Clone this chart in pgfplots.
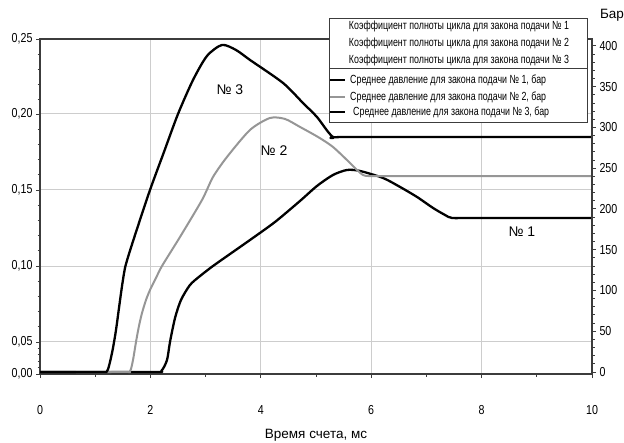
\documentclass[border=0pt]{standalone}
\usepackage{fontspec}
\setmainfont{Liberation Sans}
\newfontfamily\cond[FakeStretch=0.82]{Liberation Sans}
\newfontfamily\legfont[FakeStretch=0.75]{Liberation Sans}
\usepackage{pgfplots}
\pgfplotsset{compat=1.18}
\definecolor{gridc}{RGB}{205,205,205}
\definecolor{axc}{RGB}{60,60,60}
\definecolor{curvegray}{RGB}{150,150,150}

\pgfplotstableread{
x y
0 0
1.10 0
1.214 1
1.268 12.2
1.322 29.4
1.377 51.5
1.431 78.5
1.486 105.5
1.540 127.6
1.612 144.8
1.757 175.4
1.993 223.3
2.246 269.9
2.500 316.5
2.772 358.2
3.025 387.7
3.297 401.2
3.551 395.0
3.804 382.8
4.402 354.6
4.764 330.0
5.018 312.8
5.308 288.3
5.6 288.3
10 288.3
}\seriesthree

\pgfplotstableread{
x y
0 0
1.50 0
1.630 1
1.685 14.7
1.739 36.8
1.793 56.4
1.848 72.3
1.920 88.3
1.993 100.6
2.101 115.3
2.210 130.0
2.536 165.6
2.935 211.0
3.134 239.2
3.388 263.8
3.804 296.9
4.167 311.6
4.438 310.4
4.710 300.6
5.036 288.3
5.308 276.0
5.616 256.4
5.743 247.8
5.851 241.7
5.950 240.4
6.3 240.4
10 240.4
}\seriestwo

\pgfplotstableread{
x y
0 0
2.05 0
2.20 1.5
2.301 14.7
2.355 36.8
2.446 66.2
2.554 88.3
2.717 106.7
2.899 117.7
3.134 130.0
3.442 144.7
3.804 161.9
4.257 184.0
4.710 209.8
5.018 228.2
5.308 241.7
5.562 247.8
5.797 246.6
6.214 238.0
6.522 227.0
6.830 214.7
7.120 201.2
7.337 192.6
7.464 188.9
7.8 188.9
10 188.9
}\seriesone

\begin{document}
\begin{tikzpicture}[x=1pt,y=1pt]
\useasboundingbox (0,0) rectangle (624,442);
\begin{axis}[
  at={(40pt,68pt)}, anchor=south west, scale only axis,
  width=552pt, height=335pt,
  xmin=0, xmax=10, ymin=-2.5, ymax=408.5,
  xtick={0,2,...,10}, minor xtick={1,3,5,7,9},
  ytick={-2.5,36.8,130,223.3,316.5,408.5},
  yticklabels={{0,00},{0,05},{0,10},{0,15},{0,20},{0,25}},
  minor ytick={5.36,13.22,21.08,28.94,55.44,74.08,92.72,111.36,148.66,167.32,185.98,204.64,241.94,260.58,279.22,297.86,334.9,353.3,371.7,390.1},
  xtick pos=bottom, ytick pos=left,
  tick align=outside,
  major tick length=4pt, minor tick length=2.5pt,
  grid=major, grid style={gridc, line width=1pt},
  axis line style={axc, line width=1.1pt},
  tick style={axc, line width=0.9pt},
  /pgf/number format/assume math mode=true,
  ticklabel style={font=\cond\fontsize{13}{13}\selectfont},
  xticklabel style={yshift=-24pt},
  xlabel={Время счета, мс},
  xlabel style={font=\fontsize{13.5}{13.5}\selectfont, at={(axis description cs:0.5,0)}, anchor=center, yshift=-61pt},
]
\addplot[black, line width=2.3pt, smooth, tension=0.45, line join=round] table[x=x,y=y] {\seriesone};
\addplot[curvegray, line width=2pt, smooth, tension=0.45, line join=round] table[x=x,y=y] {\seriestwo};
\addplot[black, line width=2.3pt, smooth, tension=0.45, line join=round] table[x=x,y=y] {\seriesthree};
\node[font=\fontsize{14}{14}\selectfont] at (axis cs:3.44,346) {№ 3};
\node[font=\fontsize{14}{14}\selectfont] at (axis cs:4.24,271) {№ 2};
\node[font=\fontsize{14}{14}\selectfont] at (axis cs:8.73,171.7) {№ 1};
\end{axis}
\begin{axis}[
  at={(40pt,68pt)}, anchor=south west, scale only axis,
  width=552pt, height=335pt,
  xmin=0, xmax=10, ymin=-2.5, ymax=408.5,
  axis y line*=right, axis x line=none,
  ytick={0,50,...,400}, minor y tick num=4,
  tick align=outside,
  major tick length=4pt, minor tick length=2.5pt,
  axis line style={axc, line width=1.1pt},
  tick style={axc, line width=0.9pt},
  /pgf/number format/assume math mode=true,
  ticklabel style={font=\cond\fontsize{13}{13}\selectfont},
]
\end{axis}
% legend
\draw[axc, line width=1pt, fill=white] (329,423) rectangle (587,319);
\draw[axc, line width=1pt] (329,373) -- (587,373);
\begin{scope}[every node/.style={font=\legfont\fontsize{11.8}{11.8}\selectfont, inner sep=0pt}]
\node at (459,416) {Коэффициент полноты цикла для закона подачи № 1};
\node at (459,399) {Коэффициент полноты цикла для закона подачи № 2};
\node at (459,382) {Коэффициент полноты цикла для закона подачи № 3};
\draw[black, line width=2.3pt] (330,362) -- (345,362);
\draw[curvegray, line width=2pt] (330,345) -- (345,345);
\draw[black, line width=2.3pt] (330,330) -- (345,330);
\node[anchor=west] at (350,362) {Среднее давление для закона подачи № 1, бар};
\node[anchor=west] at (350,345) {Среднее давление для закона подачи № 2, бар};
\node[anchor=west] at (353,330) {Среднее давление для закона подачи № 3, бар};
\end{scope}
\node[font=\fontsize{13.5}{13.5}\selectfont] at (612,427) {Бар};
\end{tikzpicture}
\end{document}
